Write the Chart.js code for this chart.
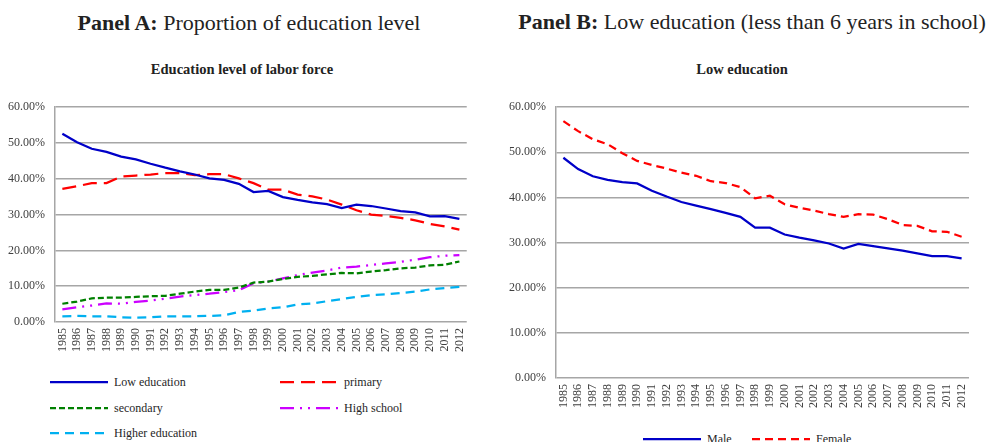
<!DOCTYPE html>
<html>
<head>
<meta charset="utf-8">
<script src="https://cdn.jsdelivr.net/npm/chart.js@4.4.1/dist/chart.umd.min.js"></script>
<style>
  body { margin: 0; background: #fff; width: 992px; height: 442px; overflow: hidden; position: relative;
         font-family: 'Liberation Serif', serif; color: #222; }
  .head { position: absolute; font-size: 22px; line-height: 22px; white-space: nowrap; transform: translateX(-50%); }
  .sub { position: absolute; font-size: 14.5px; line-height: 15px; font-weight: bold; white-space: nowrap; transform: translateX(-50%); }
  canvas { position: absolute; }
  .leg { position: absolute; height: 16px; display: flex; align-items: center; font-size: 12px; color: #262626; white-space: nowrap; }
  .leg svg { margin-right: 6px; }
</style>
</head>
<body>

<div class="head" style="left:249px; top:12px;"><b>Panel A:</b> Proportion of education level</div>
<div class="head" style="left:752px; top:11px;"><b>Panel B:</b> Low education (less than 6 years in school)</div>
<div class="sub" style="left:242px; top:62px;">Education level of labor force</div>
<div class="sub" style="left:742px; top:62px;">Low education</div>

<canvas id="chartA" width="480" height="270" style="left:0; top:90px;"></canvas>
<canvas id="chartB" width="492" height="326" style="left:500px; top:90px;"></canvas>
<div id="legA"></div>
<div id="legB"></div>

<script>
// años de la serie
const years = ['1985', '1986', '1987', '1988', '1989', '1990', '1991', '1992', '1993', '1994',
               '1995', '1996', '1997', '1998', '1999', '2000', '2001', '2002', '2003', '2004',
               '2005', '2006', '2007', '2008', '2009', '2010', '2011', '2012']

// panel A: proporción de cada nivel educativo (%)
const lowEdu     = [52.6, 50.2, 48.4, 47.5, 46.2, 45.4, 44.2, 43.1, 42.1, 41.2, 40.1, 39.7, 38.6, 36.3,
                    36.6, 34.9, 34.1, 33.4, 32.9, 31.8, 32.8, 32.4, 31.7, 31.0, 30.6, 29.5, 29.6, 28.8]
const primary    = [37.2, 37.9, 38.8, 38.8, 40.6, 40.9, 41.2, 41.6, 41.6, 41.0, 41.3, 41.3, 40.1, 38.8,
                    37.0, 37.0, 35.6, 35.1, 34.2, 32.8, 31.2, 30.0, 29.6, 29.1, 28.4, 27.4, 26.7, 25.8]
const secondary  = [5.1, 5.7, 6.6, 6.8, 6.8, 7.0, 7.2, 7.3, 7.9, 8.5, 9.0, 9.0, 9.6, 11.0,
                    11.3, 12.0, 12.6, 12.9, 13.3, 13.7, 13.6, 14.1, 14.5, 15.0, 15.2, 15.8, 16.0, 16.9]
const highSchool = [3.5, 4.1, 4.6, 5.2, 5.1, 5.6, 6.0, 6.5, 7.1, 7.5, 7.9, 8.4, 8.9, 10.8,
                    11.3, 12.2, 13.1, 13.8, 14.4, 15.2, 15.5, 15.9, 16.4, 16.8, 17.4, 18.1, 18.5, 18.7]
const higherEdu  = [1.6, 1.7, 1.6, 1.6, 1.3, 1.2, 1.3, 1.6, 1.6, 1.6, 1.7, 1.9, 2.8, 3.2,
                    3.8, 4.1, 4.9, 5.2, 5.8, 6.4, 7.0, 7.5, 7.7, 8.1, 8.5, 9.1, 9.5, 9.8]

// panel B: baja educación por sexo (%)
const male   = [48.8, 46.3, 44.7, 43.9, 43.4, 43.1, 41.5, 40.2, 39.0, 38.2, 37.4, 36.6, 35.7, 33.3,
                33.3, 31.8, 31.1, 30.5, 29.8, 28.7, 29.7, 29.2, 28.7, 28.2, 27.6, 27.0, 27.0, 26.5]
const female = [56.9, 54.7, 52.9, 51.8, 49.8, 48.1, 47.2, 46.4, 45.5, 44.8, 43.6, 43.2, 42.3, 39.8,
                40.4, 38.5, 37.7, 37.1, 36.3, 35.7, 36.3, 36.2, 35.2, 33.9, 33.7, 32.5, 32.4, 31.3]

Chart.defaults.font.family = "'Liberation Serif', serif"
Chart.defaults.color = '#404040'

const gris = '#a6a6a6'

function serie(label, data, color, dash) {
    return {
        label: label,
        data: data,
        borderColor: color,
        backgroundColor: color,
        borderWidth: 2.25,
        borderDash: dash,
        pointRadius: 0,
        tension: 0,
        fill: false
    }
}

// ejes comunes a los dos paneles
function ejes(anchoY) {
    const fuente = { family: "'Liberation Serif', serif", size: 12 }
    return {
        x: {
            offset: true,
            grid: { display: false, drawTicks: false },
            border: { display: false },
            ticks: { autoSkip: false, minRotation: 90, maxRotation: 90, padding: 6, font: fuente },
            afterFit: s => { s.height = 38 }
        },
        y: {
            min: 0,
            max: 60,
            grid: { color: gris, lineWidth: 1.5, drawTicks: false },
            border: { color: gris, width: 1.5 },
            ticks: { stepSize: 10, padding: 10, font: fuente, callback: v => v.toFixed(2) + '%' },
            afterFit: s => { s.width = anchoY }
        }
    }
}

function grafico(id, datasets, anchoY, padding) {
    return new Chart(document.getElementById(id), {
        type: 'line',
        data: { labels: years, datasets: datasets },
        options: {
            responsive: false,
            animation: false,
            layout: { padding: padding },
            scales: ejes(anchoY),
            plugins: { legend: { display: false }, tooltip: { enabled: false } }
        }
    })
}

const chartA = grafico('chartA', [
    serie('Low education', lowEdu, '#0000c8', []),
    serie('primary', primary, '#ff0000', [14, 7]),
    serie('secondary', secondary, '#008000', [6, 3]),
    serie('High school', highSchool, '#cc00ff', [14, 6, 2, 6, 2, 6]),
    serie('Higher education', higherEdu, '#00b0f0', [9, 6])
], 55, { top: 14, right: 12, left: 0, bottom: 0 })

const chartB = grafico('chartB', [
    serie('Male', male, '#0000c8', []),
    serie('Female', female, '#ff0000', [8, 5])
], 56, { top: 14, right: 23, left: 0, bottom: 0 })

// leyenda en html para poder ubicar las entradas en columnas
function leyenda(chart, contenedor, lugares) {
    const caja = document.getElementById(contenedor)
    chart.data.datasets.forEach((ds, i) => {
        const p = lugares[i]
        const div = document.createElement('div')
        div.className = 'leg'
        div.style.left = p[0] + 'px'
        div.style.top = (p[1] - 8) + 'px'
        const w = p[2]
        div.innerHTML = '<svg width="' + w + '" height="6"><line x1="0" y1="3" x2="' + w + '" y2="3" stroke="' +
            ds.borderColor + '" stroke-width="2.25" stroke-dasharray="' + (ds.borderDash.join(' ') || 'none') +
            '"/></svg><span>' + ds.label + '</span>'
        caja.appendChild(div)
    })
}

leyenda(chartA, 'legA', [[50, 382, 58], [280, 382, 58], [50, 408, 58], [280, 408, 58], [50, 433, 58]])
leyenda(chartB, 'legB', [[643, 439, 58], [752, 439, 58]])
</script>
</body>
</html>
